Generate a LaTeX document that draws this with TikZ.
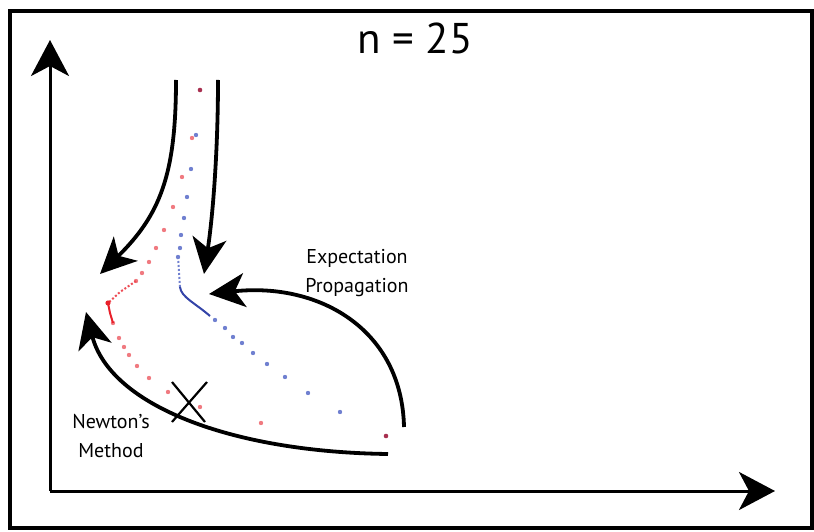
\documentclass[tikz,border=0pt]{standalone}
\usepackage{fontspec}
\setmainfont{PT Sans}
\usetikzlibrary{arrows.meta}
\definecolor{pred}{HTML}{F07A80}
\definecolor{pbred}{HTML}{E8202A}
\definecolor{pblue}{HTML}{7080D0}
\definecolor{pdblue}{HTML}{3444A8}
\definecolor{pmaroon}{HTML}{A83050}

\begin{document}
\begin{tikzpicture}[x=1pt, y=-1pt, >=Stealth,
  big/.style={-{Stealth[length=36pt,width=34pt,inset=10pt]}, line width=3.8pt},
  axis/.style={-{Stealth[length=36pt,width=38pt,inset=10pt]}, line width=3pt},
  lbl/.style={font=\fontsize{20}{23}\selectfont, align=center, inner sep=0pt},
  rdot/.style={fill=pred},
  bdot/.style={fill=pblue}]
  \useasboundingbox (0,0) rectangle (814,532);
  % --- frame and axes
  \draw[line width=4.5pt] (10,11) rectangle (812,528);
  \coordinate (o) at (50,491);
  \coordinate (ytip) at (50,40);
  \coordinate (xtip) at (775,491);
  \draw[axis] (o) -- (ytip);
  \draw[axis] (o) -- (xtip);
  \node[font=\fontsize{43}{46}\selectfont, inner sep=0pt] (title) at (415,38) {n = 25};
  % --- iterates (red)
  \foreach \p in {(192,138),(182,177),(173,207),(164,230),(156,248),(149,262),
                  (142,273),(136,281),(113,323),(119,338),(124,347),(129,355),
                  (137,366),(149,378),(168,392),(200,407),(261,423)}
    \fill[rdot] \p circle (2.2pt);
  \draw[pbred!80, line width=2pt, dotted] (136,281) -- (120,292) -- (108,303);
  \draw[pbred, line width=2pt] (108,303) -- (110,313) -- (113,323);
  \fill[pbred] (108,303) circle (2.6pt);
  % --- iterates (blue)
  \foreach \p in {(196,135),(191,169),(187,197),(184,218),(181,235),(180,248),
                  (178,257),(215,320),(225,328),(233,337),(242,343),(253,353),
                  (267,364),(285,377),(308,393),(340,412)}
    \fill[bdot] \p circle (2.2pt);
  \draw[pblue, line width=2pt, dotted] (178,257) -- (180,287);
  \draw[pdblue, line width=2pt] (180,287) .. controls (181,297) and (195,303) .. (210,316);
  % --- shared end points
  \fill[pmaroon] (200,90) circle (2.3pt);
  \fill[pmaroon] (386,436) circle (2.3pt);
  % --- flow arrows
  \coordinate (l0) at (176,80);
  \coordinate (l1) at (100,274);
  \coordinate (r0) at (218,80);
  \coordinate (r1) at (204,274);
  \coordinate (ep0) at (404,427);
  \coordinate (ep1) at (209,294);
  \coordinate (nw0) at (388,454);
  \coordinate (nw1) at (86,312);
  \draw[big] (l0) .. controls (176,175) and (160,215) .. (l1);
  \draw[big] (r0) .. controls (218,150) and (213,215) .. (r1);
  \draw[big] (ep0) .. controls (402,330) and (320,282) .. (ep1);
  \draw[big] (nw0) .. controls (230,452) and (110,405) .. (nw1);
  % --- failed step
  \draw[line width=2.2pt] (172,382) -- (205,422);
  \draw[line width=2.2pt] (207,382) -- (172,422);
  % --- labels
  \node[lbl] (ep) at (357,273) {Expectation\\[6pt]Propagation};
  \node[lbl] (nm) at (111,436) {Newton’s\\[6pt]Method};
\end{tikzpicture}
\end{document}
